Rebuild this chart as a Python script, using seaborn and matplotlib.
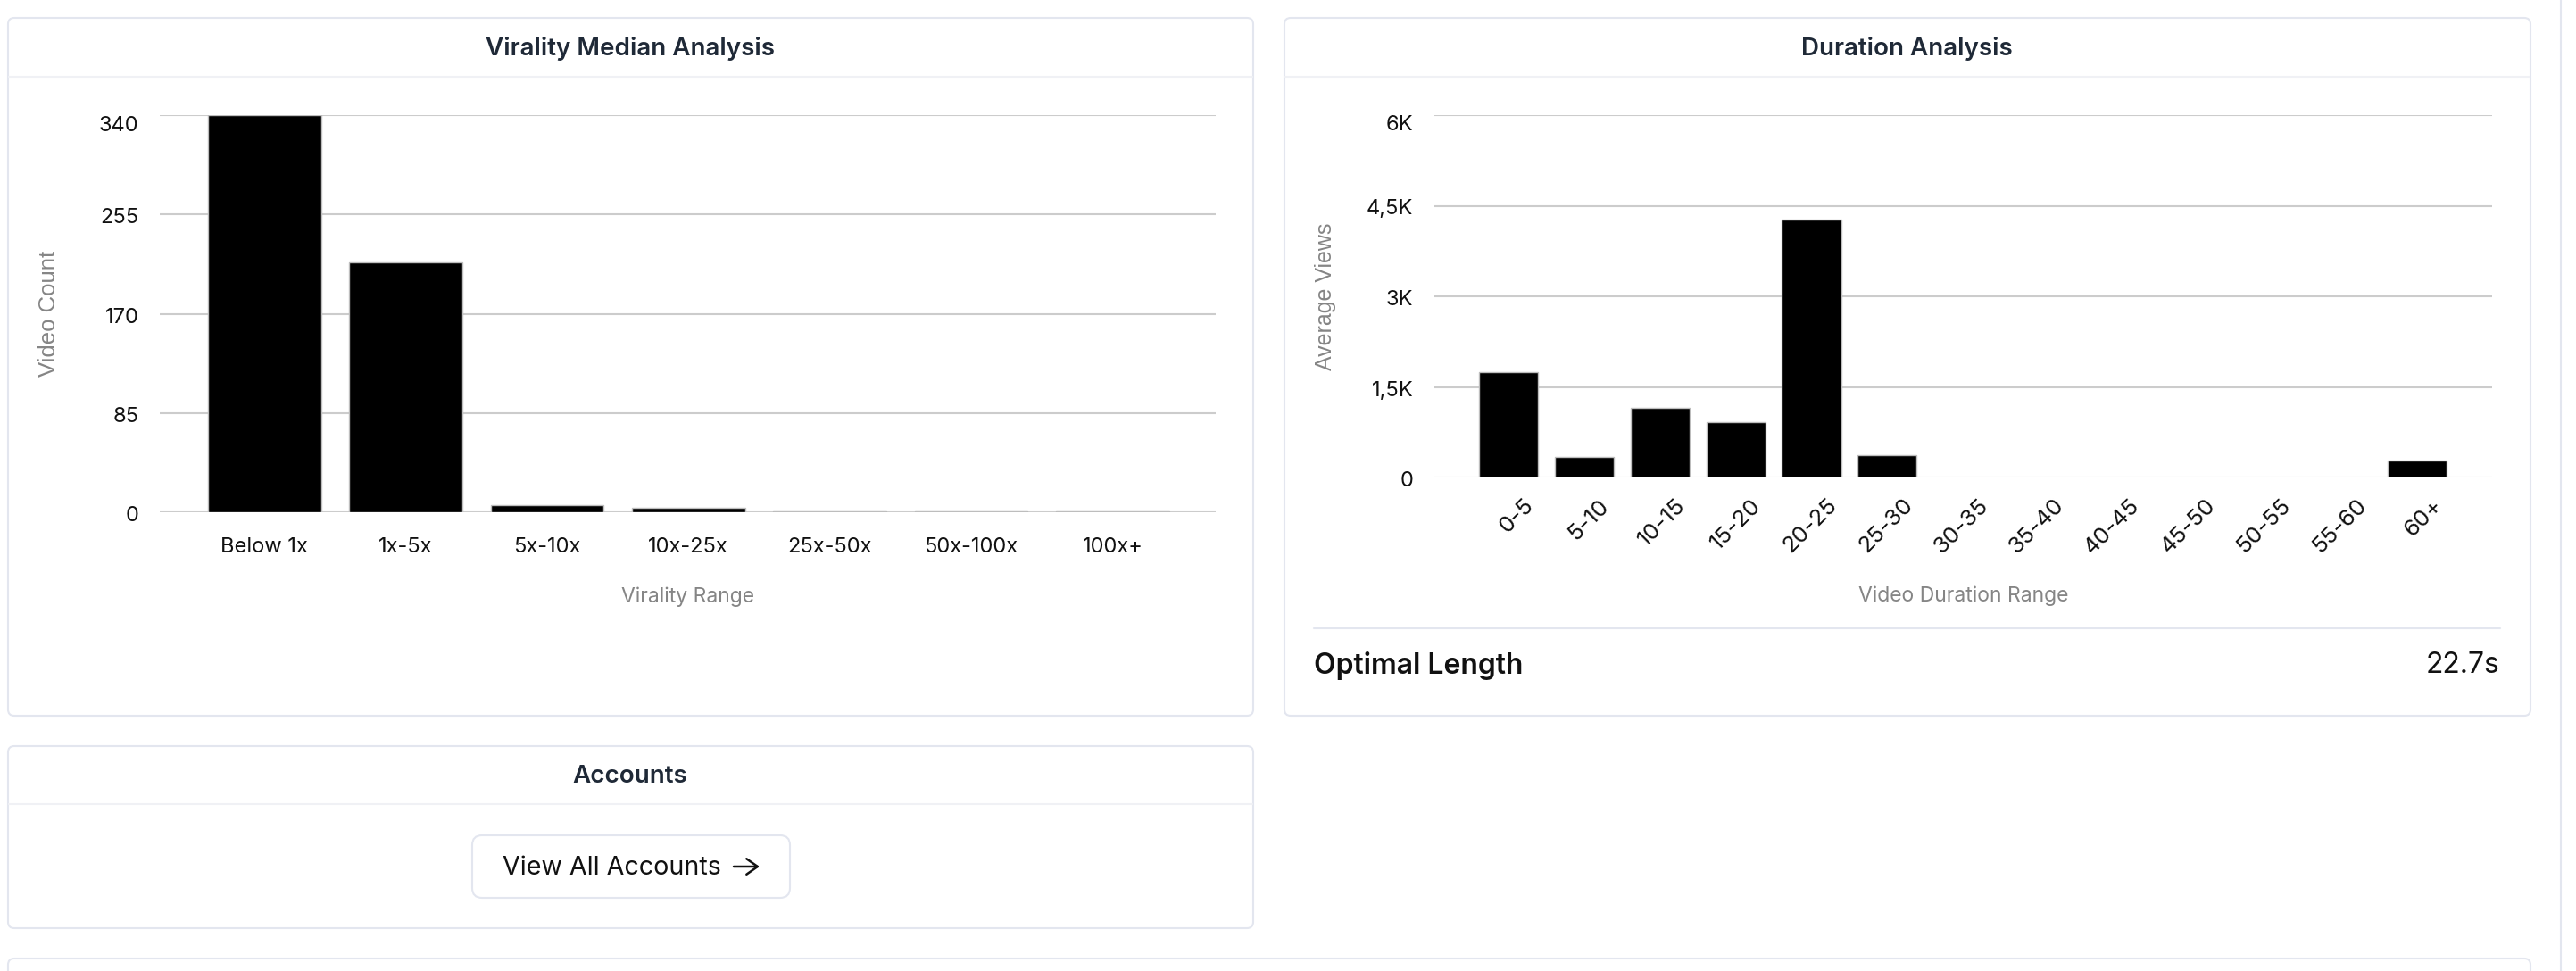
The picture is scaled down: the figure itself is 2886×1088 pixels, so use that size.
import numpy as np
import pandas as pd
import matplotlib
matplotlib.use("Agg")
import matplotlib.pyplot as plt
import seaborn as sns
from matplotlib.patches import FancyBboxPatch
from matplotlib.transforms import ScaledTranslation

# virality chart data
virality_ranges = ["Below 1x", "1x-5x", "5x-10x", "10x-25x", "25x-50x", "50x-100x", "100x+"]
video_counts = [340, 214, 6, 4, 1, 1, 1]
virality_ticks = [0, 85, 170, 255, 340]

# duration chart data
duration_ranges = ["0-5", "5-10", "10-15", "15-20", "20-25", "25-30", "30-35",
                   "35-40", "40-45", "45-50", "50-55", "55-60", "60+"]
avg_views = [1740, 340, 1150, 920, 4275, 375, 0, 0, 0, 0, 0, 0, 278]
duration_ticks = [0, 1500, 3000, 4500, 6000]
duration_tick_labels = ["0", "1,5K", "3K", "4,5K", "6K"]
optimal_length = "22.7s"

W, H = 2886, 1088
sns.set_theme(style="white")
plt.rcParams["font.family"] = ["Inter", "DejaVu Sans"]

border = "#e3e6ef"
header_line = "#f0f1f5"
grid_c = "#cccccc"
title_c = "#1f2937"
axis_title_c = "#858585"

fig = plt.figure(figsize=(W / 100, H / 100), dpi=100)
fig.patch.set_facecolor("white")


def px_rect(l, t, r, b):
    return [l / W, 1 - b / H, (r - l) / W, (b - t) / H]


# background layer in pixel coords for the cards
bg = fig.add_axes([0, 0, 1, 1], zorder=0)
bg.set_xlim(0, W)
bg.set_ylim(H, 0)
bg.axis("off")


def card(l, t, r, b, rad=7):
    bg.add_patch(FancyBboxPatch((l, t), r - l, b - t,
                                boxstyle=f"round,pad=0,rounding_size={rad}",
                                fc="white", ec=border, lw=1.5))


card(9, 20, 1404, 802)
card(1439, 20, 2835, 802)
card(9, 836, 1404, 1040)
card(9, 1074, 2835, 1130)
bg.plot([2869, 2869], [0, H], color=border, lw=1.5)

bg.plot([10, 1403], [86, 86], color=header_line, lw=1.5)
bg.plot([1440, 2834], [86, 86], color=header_line, lw=1.5)
bg.plot([10, 1403], [901, 901], color=header_line, lw=1.5)

bg.text(706, 54, "Virality Median Analysis", ha="center", va="center",
        fontsize=20, fontweight="semibold", color=title_c)
bg.text(2136, 54, "Duration Analysis", ha="center", va="center",
        fontsize=20, fontweight="semibold", color=title_c)
bg.text(706, 870, "Accounts", ha="center", va="center",
        fontsize=20, fontweight="semibold", color=title_c)

# duration footer
bg.plot([1472, 2801], [704, 704], color=border, lw=1.5)
bg.text(1472, 746, "Optimal Length", ha="left", va="center",
        fontsize=23, fontweight="semibold", color="#111111")
bg.text(2801, 746, optimal_length, ha="right", va="center",
        fontsize=23, color="#111111")

# accounts button
bg.add_patch(FancyBboxPatch((529, 936), 356, 70,
                            boxstyle="round,pad=0,rounding_size=11",
                            fc="white", ec=border, lw=1.5))
bg.text(563, 972, "View All Accounts", ha="left", va="center",
        fontsize=20.6, color="#111111")
bg.annotate("", xy=(851, 971), xytext=(822, 971),
            arrowprops=dict(arrowstyle="->,head_length=0.5,head_width=0.35",
                            lw=1.8, color="#111111", shrinkA=0, shrinkB=0,
                            mutation_scale=18))

# ---- virality chart
vir_df = pd.DataFrame({"range": virality_ranges, "count": video_counts})
ax1 = fig.add_axes(px_rect(179, 129, 1362, 574), zorder=1)
ax1.set_facecolor("none")
sns.barplot(data=vir_df, x="range", y="count", color="black", saturation=1,
            width=0.8, edgecolor="#bdbdbd", linewidth=1, ax=ax1)
ax1.set_xlim(-0.74, 6.73)
ax1.set_ylim(0, 340)
ax1.set_yticks(virality_ticks)
ax1.set_yticklabels([str(v) for v in virality_ticks])
ax1.yaxis.grid(True, color=grid_c, lw=1.5)
ax1.set_axisbelow(True)
sns.despine(ax=ax1, left=True, bottom=True)
ax1.tick_params(axis="both", length=0, labelsize=17, colors="#111111")
ax1.tick_params(axis="y", pad=17)
ax1.tick_params(axis="x", pad=20)
ax1.set_xlabel("Virality Range", fontsize=16.5, color=axis_title_c)
ax1.xaxis.label.set_va("center")
ax1.xaxis.set_label_coords(0.5, (574 - 669) / 445)
ax1.set_ylabel("Video Count", fontsize=18.5, color=axis_title_c,
               family=["Liberation Sans", "DejaVu Sans"])
ax1.yaxis.label.set_va("center")
ax1.yaxis.set_label_coords((55 - 179) / 1183, 0.5)

# ---- duration chart
dur_df = pd.DataFrame({"range": duration_ranges, "views": avg_views})
ax2 = fig.add_axes(px_rect(1607, 129, 2792, 535), zorder=1)
ax2.set_facecolor("none")
sns.barplot(data=dur_df, x="range", y="views", color="black", saturation=1,
            width=0.78, edgecolor="#bdbdbd", linewidth=1, ax=ax2)
ax2.set_xlim(-0.98, 12.99)
ax2.set_ylim(0, 6000)
ax2.set_yticks(duration_ticks)
ax2.set_yticklabels(duration_tick_labels)
ax2.yaxis.grid(True, color=grid_c, lw=1.5)
ax2.set_axisbelow(True)
sns.despine(ax=ax2, left=True, bottom=True)
ax2.tick_params(axis="both", length=0, labelsize=17, colors="#111111")
ax2.tick_params(axis="y", pad=17)
ax2.tick_params(axis="x", pad=20)
ax2.set_xticks(range(len(duration_ranges)))
ax2.set_xticklabels(duration_ranges, rotation=45, ha="right", va="center",
                    rotation_mode="anchor", fontsize=18.5)
for lab in ax2.get_xticklabels():
    lab.set_transform(lab.get_transform() + ScaledTranslation(0.25, 0, fig.dpi_scale_trans))
ax2.set_xlabel("Video Duration Range", fontsize=16.5, color=axis_title_c)
ax2.xaxis.label.set_va("center")
ax2.xaxis.set_label_coords(0.5, (535 - 668) / 406)
ax2.set_ylabel("Average Views", fontsize=18, color=axis_title_c,
               family=["Liberation Sans", "DejaVu Sans"])
ax2.yaxis.label.set_va("center")
ax2.yaxis.set_label_coords((1485 - 1607) / 1185, 0.5)

# top y tick label sits a bit below its grid line, others nearly centred
for ax in (ax1, ax2):
    labs = ax.get_yticklabels()
    for lab in labs[:-1]:
        lab.set_transform(lab.get_transform() + ScaledTranslation(0, -0.015, fig.dpi_scale_trans))
    labs[-1].set_transform(labs[-1].get_transform() + ScaledTranslation(0, -0.09, fig.dpi_scale_trans))

fig.savefig("out.png", dpi=100, facecolor="white")
